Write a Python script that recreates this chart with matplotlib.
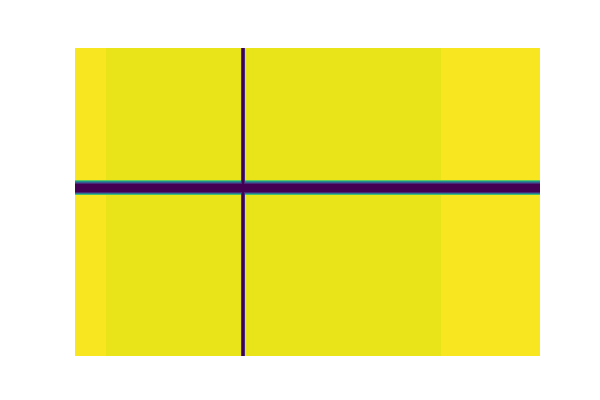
import numpy as np
import matplotlib
matplotlib.use("Agg")
import matplotlib.pyplot as plt

# column segments (width in image cells) and their level
col_widths = [31, 135, 1, 2, 1, 196, 99]
col_levels = [0.99, 0.965, 0.12, 0.0, 0.12, 0.965, 0.99]

# row segments (height in image cells) and their level
row_heights = [132, 1, 1, 1, 1, 8, 1, 1, 1, 160]
row_levels = [1.0, 0.75, 0.5, 0.3, 0.12, 0.0, 0.12, 0.4, 0.7, 1.0]

col_profile = np.repeat(col_levels, col_widths)
row_profile = np.repeat(row_levels, row_heights)
img = np.minimum(row_profile[:, None], col_profile[None, :])

fig, ax = plt.subplots(figsize=(6, 4), dpi=100)
ax.imshow(img, cmap="viridis", vmin=0, vmax=1, aspect="auto", interpolation="nearest")
ax.axis("off")
fig.savefig("out.png", dpi=100)
